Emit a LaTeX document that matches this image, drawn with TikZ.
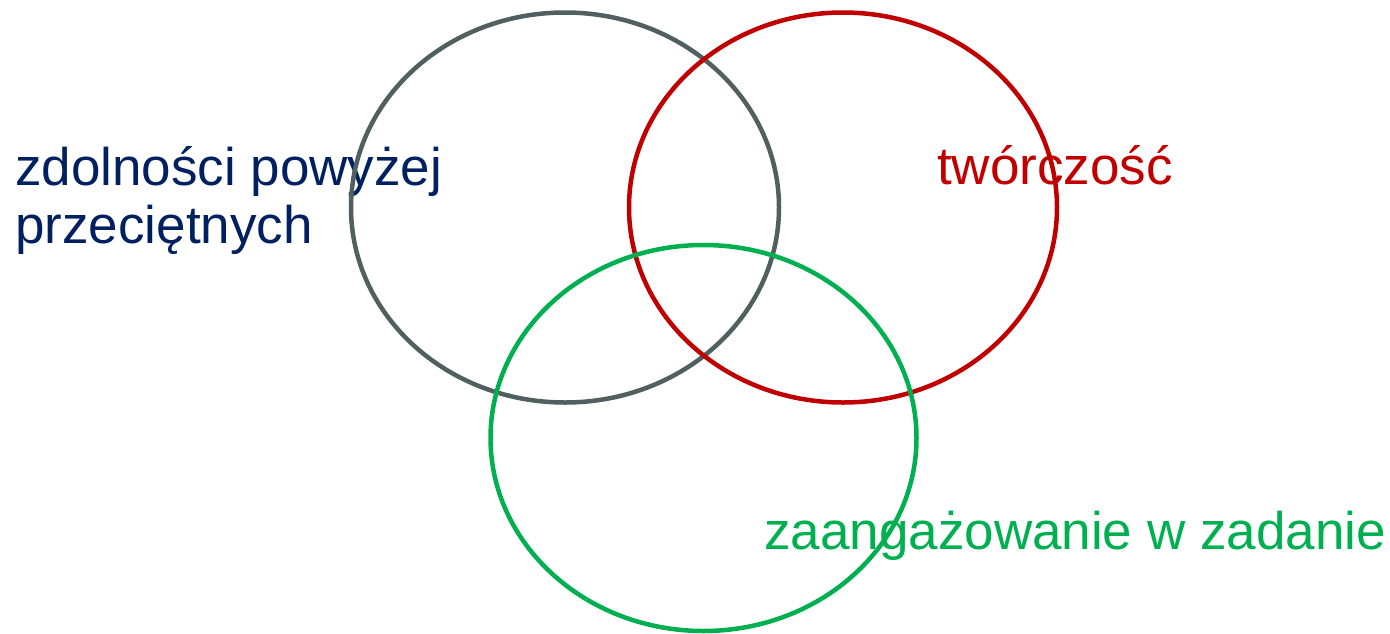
\documentclass[tikz,border=0pt]{standalone}
\usepackage{fontspec}
\setmainfont{Liberation Sans}
\definecolor{cgray}{HTML}{505F5F}
\definecolor{cred}{HTML}{C00000}
\definecolor{cgreen}{HTML}{00B050}
\definecolor{cblue}{HTML}{002060}
\begin{document}
\begin{tikzpicture}[x=1pt,y=-1pt,
  ring/.style={line width=4.5pt},
  lbl/.style={inner sep=0pt,anchor=base west,align=left,
    font=\fontsize{53}{58}\selectfont}]
\useasboundingbox (0,0) rectangle (1390,633);
\node[lbl,text=cblue] (t1) at (15,243) {zdolności powyżej\\przeciętnych};
\node[lbl,text=cred] (t2) at (937,184) {twórczość};
\node[lbl,text=cgreen] (t3) at (764,549) {zaangażowanie w zadanie};
\draw[ring,cgray] (565,207.5) ellipse [x radius=214, y radius=195];
\draw[ring,cred] (843,207.5) ellipse [x radius=214, y radius=195];
\draw[ring,cgreen] (703.5,438) ellipse [x radius=213, y radius=193];
\end{tikzpicture}
\end{document}
